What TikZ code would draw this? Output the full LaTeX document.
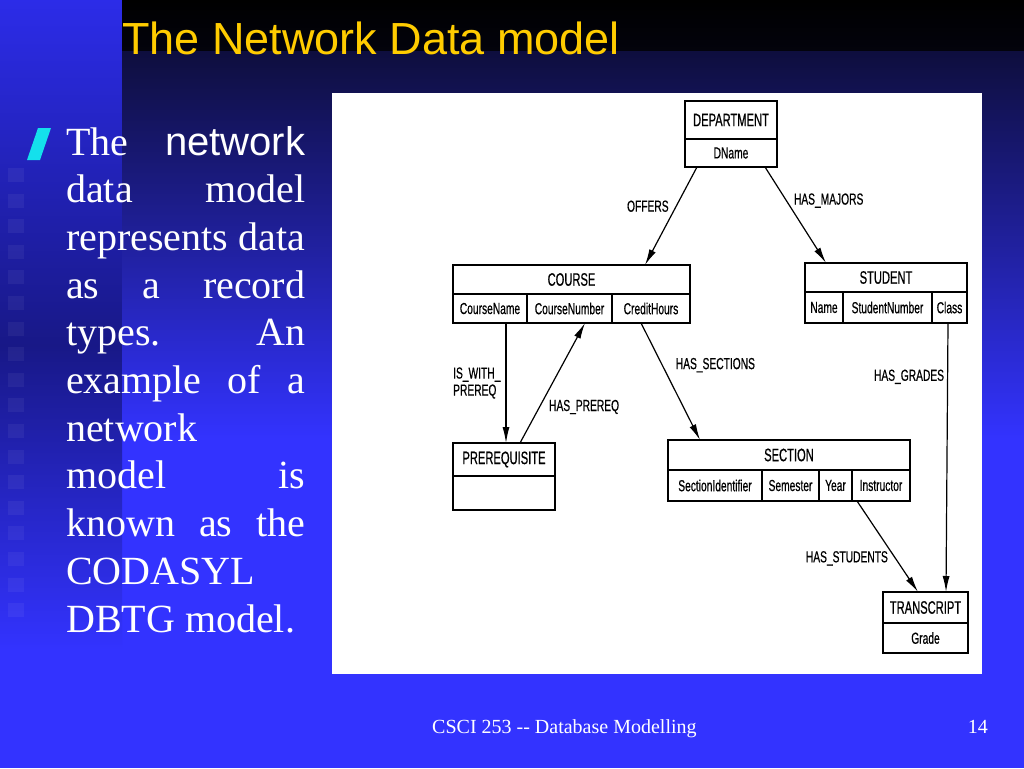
\documentclass[tikz,border=0pt]{standalone}
\usepackage{fontspec}
\setmainfont{Liberation Serif}
\setsansfont{Liberation Sans}
\newfontfamily\recfont[FakeStretch=0.62, FakeBold=0.6]{Liberation Sans}
\newfontfamily\fieldfont[FakeStretch=0.64, FakeBold=0.5]{Liberation Sans}
\usetikzlibrary{positioning, arrows.meta}

\definecolor{slideblue}{RGB}{51,51,255}
\definecolor{stripblue}{RGB}{44,44,232}
\definecolor{stripdark}{RGB}{24,24,135}
\definecolor{navy}{RGB}{14,14,62}
\definecolor{titleyellow}{RGB}{255,204,0}
\definecolor{bulletcyan}{RGB}{20,224,236}

\newcommand\rectitle{\recfont\fontsize{18}{20}\selectfont}
\newcommand\recfield{\fieldfont\fontsize{16}{17}\selectfont}

\tikzstyle{rtitle} = [rectangle, draw, line width=1.5pt, outer sep=0pt, inner sep=1pt, font=\rectitle]
\tikzstyle{rfield} = [rectangle, draw, line width=1.3pt, outer sep=0pt, inner sep=1pt, font=\recfield]
\tikzstyle{line} = [draw, line width=1.2pt, -{Latex[length=16pt,width=7pt]}]
\tikzstyle{lbl} = [font=\recfield, inner sep=1pt]
\tikzstyle{bodyline} = [text=white, inner sep=0pt, font=\fontsize{40}{48}\selectfont]
\tikzstyle{footer} = [text=white, inner sep=0pt, font=\fontsize{20}{24}\selectfont]

\begin{document}
\begin{tikzpicture}[x=1pt, y=-1pt]
    \useasboundingbox (0,0) rectangle (1024,768);
    % Slide background
    \fill[slideblue] (0,0) rectangle (1024,768);
    \shade[top color=stripblue, bottom color=stripdark] (0,0) rectangle (122,345);
    \shade[top color=stripdark, bottom color=slideblue] (0,345) rectangle (122,650);
    \shade[top color=black, bottom color=black!80!navy] (122,0) rectangle (1024,52);
    \shade[top color=navy, bottom color=slideblue] (122,52) rectangle (1024,440);
    \foreach \k in {0,...,17}
        \fill[white, opacity=0.05] (8,{168+25.6*\k}) rectangle ++(16,14);

    % Title and bullet text
    \node[anchor=base west, inner sep=0pt, text=titleyellow, font=\sffamily\fontsize{45}{50}\selectfont] (title) at (122,55) {The Network Data model};
    \fill[bulletcyan] (27,160) -- (38,128) -- (51,128) -- (40,160) -- cycle;
    \foreach \txt [count=\i] in {{The\hfill{\sffamily network}}, {data\hfill model}, {represents\hfill data},
        {as\hfill a\hfill record}, {types.\hfill An}, {example\hfill of\hfill a}, {network\hfill},
        {model\hfill is}, {known\hfill as\hfill the}, {CODASYL\hfill}, {DBTG model.\hfill}}
        \node[bodyline, anchor=base west] (txt\i) at (66,{155+47.7*(\i-1)}) {\hbox to 239pt{\txt}};

    % Diagram panel
    \fill[white] (332,93) rectangle (982,674);

    % Place record types
    \node[rtitle, minimum width=92pt, minimum height=38pt, anchor=north west] (dept) at (685,101) {DEPARTMENT};
    \node[rfield, minimum width=92pt, minimum height=28pt, below=0pt of dept] (dname) {DName};

    \node[rtitle, minimum width=237pt, minimum height=29pt, anchor=north west] (course) at (453,265) {COURSE};
    \node[rfield, minimum width=74pt, minimum height=29pt, anchor=north west] (cname) at (course.south west) {CourseName};
    \node[rfield, minimum width=85pt, minimum height=29pt, right=0pt of cname] (cnum) {CourseNumber};
    \node[rfield, minimum width=78pt, minimum height=29pt, right=0pt of cnum] (chours) {CreditHours};

    \node[rtitle, minimum width=162pt, minimum height=29pt, anchor=north west] (student) at (805,263) {STUDENT};
    \node[rfield, minimum width=38pt, minimum height=31pt, anchor=north west] (sname) at (student.south west) {Name};
    \node[rfield, minimum width=89pt, minimum height=31pt, right=0pt of sname] (snum) {StudentNumber};
    \node[rfield, minimum width=35pt, minimum height=31pt, right=0pt of snum] (class) {Class};

    \node[rtitle, minimum width=102pt, minimum height=33pt, anchor=north west] (prereq) at (453,443) {PREREQUISITE};
    \node[rfield, minimum width=102pt, minimum height=34pt, below=0pt of prereq] (prereqf) {};

    \node[rtitle, minimum width=242pt, minimum height=30pt, anchor=north west] (section) at (668,440) {SECTION};
    \node[rfield, minimum width=94pt, minimum height=31pt, anchor=north west] (secid) at (section.south west) {SectionIdentifier};
    \node[rfield, minimum width=57pt, minimum height=31pt, right=0pt of secid] (sem) {Semester};
    \node[rfield, minimum width=33pt, minimum height=31pt, right=0pt of sem] (year) {Year};
    \node[rfield, minimum width=58pt, minimum height=31pt, right=0pt of year] (instr) {Instructor};

    \node[rtitle, minimum width=85pt, minimum height=31pt, anchor=north west] (transcript) at (883,592) {TRANSCRIPT};
    \node[rfield, minimum width=85pt, minimum height=30pt, below=0pt of transcript] (grade) {Grade};

    % Draw set types
    \path[line] ([xshift=12pt]dname.south west) -- node[lbl, pos=0.4, left=6pt] (offers) {OFFERS} ([xshift=192pt]course.north west);
    \path[line] ([xshift=-12pt]dname.south east) -- node[lbl, pos=0.35, right=6pt] (hasmajors) {HAS\_MAJORS} ([xshift=21pt]student.north west);
    \path[line] ([xshift=53pt]cname.south west) -- node[lbl, left=4pt, align=left] (iswith) {IS\_WITH\_\\PREREQ} ([xshift=53pt]prereq.north west);
    \path[line] ([xshift=67pt]prereq.north west) -- node[lbl, pos=0.3, right=8pt] (hasprereq) {HAS\_PREREQ} ([xshift=58pt]cnum.south west);
    \path[line] ([xshift=29pt]chours.south west) -- node[lbl, pos=0.36, right=12pt] (hassections) {HAS\_SECTIONS} ([xshift=32pt]section.north west);
    \path[line] ([xshift=5pt]instr.south west) -- node[lbl, pos=0.63, left=6pt] (hasstudents) {HAS\_STUDENTS} ([xshift=35pt]transcript.north west);
    \path[line] ([xshift=16pt]class.south west) -- node[lbl, pos=0.2, left=2pt] (hasgrades) {HAS\_GRADES} ([xshift=63pt]transcript.north west);

    % Footer
    \node[footer, anchor=base west] (foot) at (432,733) {CSCI 253 {-}{-} Database Modelling};
    \node[footer, anchor=base east] (pageno) at (988,733) {14};
\end{tikzpicture}
\end{document}
